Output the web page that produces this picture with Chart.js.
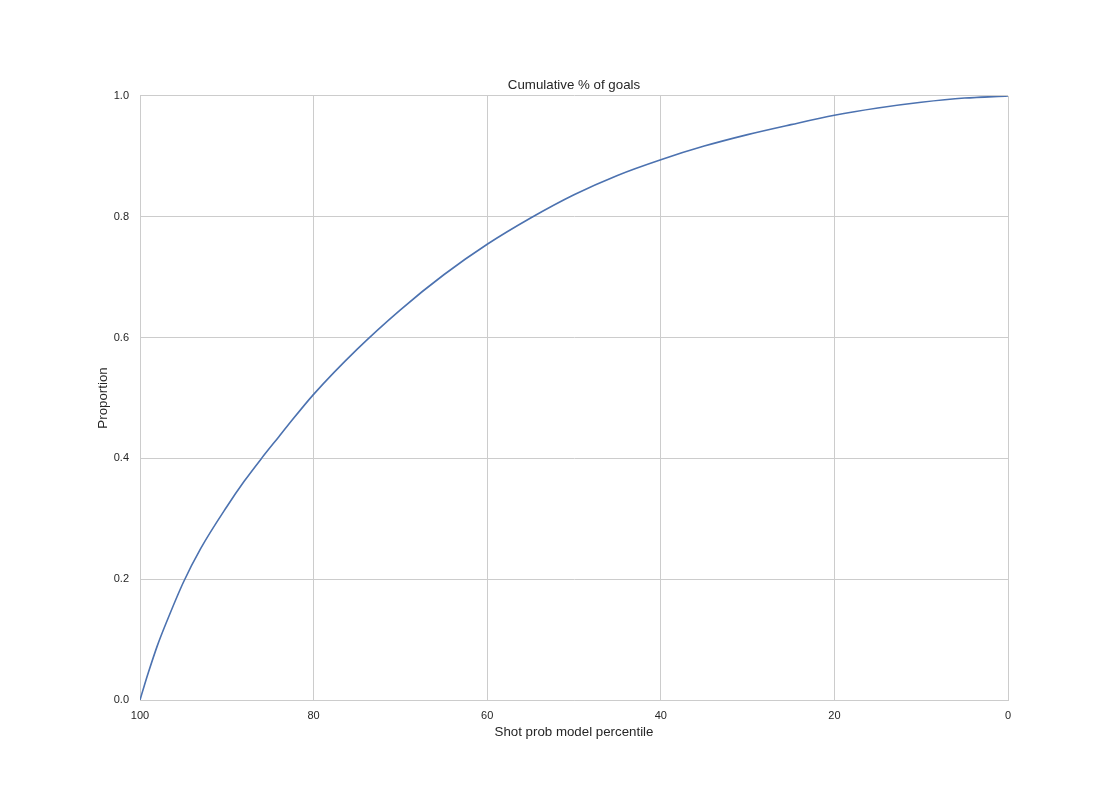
<!DOCTYPE html>
<html>
<head>
<meta charset="utf-8">
<script src="https://cdn.jsdelivr.net/npm/chart.js@4"></script>
<style>
  html, body { margin: 0; padding: 0; background: #ffffff; }
  canvas { display: block; }
</style>
</head>
<body>
<canvas id="goalsChart" width="1120" height="800"></canvas>
<script>
// Dados
const percentiles = [100, 99.5, 99, 98, 97, 95, 93, 90, 88, 86, 84, 83, 80, 75, 70, 65, 60, 55, 50, 45, 40, 35, 30, 25, 20, 15, 10, 5, 0];
const proportions = [0, 0.024, 0.047, 0.090, 0.127, 0.195, 0.251, 0.320, 0.362, 0.400, 0.436, 0.454, 0.506, 0.5805, 0.646, 0.704, 0.7545, 0.798, 0.8365, 0.8685, 0.8945, 0.917, 0.936, 0.9525, 0.968, 0.980, 0.9895, 0.9965, 1.0];
const xTicks = [100, 80, 60, 40, 20, 0];
const yTicks = [0, 0.2, 0.4, 0.6, 0.8, 1.0];

const textColor = '#262626';
const gridColor = '#cccccc';
const fontFamily = '"Liberation Sans", Arial, sans-serif';

const points = percentiles.map((p, i) => ({ x: p, y: proportions[i] }));

const ctx = document.getElementById('goalsChart').getContext('2d');
const goalsChart = new Chart(ctx, {
    type: 'line',
    data: {
        datasets: [{
            label: 'Cumulative % of goals',
            data: points,
            borderColor: '#4c72b0',
            borderWidth: 1.6,
            pointRadius: 0,
            fill: false,
            cubicInterpolationMode: 'monotone'
        }]
    },
    options: {
        responsive: false,
        animation: false,
        layout: { padding: { left: 0, top: 0, right: 112, bottom: 0 } },
        plugins: {
            legend: { display: false },
            tooltip: { enabled: false },
            title: {
                display: true,
                text: 'Cumulative % of goals',
                fullSize: false,
                color: textColor,
                font: { family: fontFamily, size: 13.3, weight: 'normal', lineHeight: 1.2 },
                padding: { top: 77, bottom: 3 }
            }
        },
        scales: {
            x: {
                type: 'linear',
                reverse: true,
                min: 0,
                max: 100,
                afterBuildTicks: (scale) => { scale.ticks = xTicks.map(v => ({ value: v })); },
                afterFit: (scale) => { scale.height = 100; },
                ticks: {
                    color: textColor,
                    font: { family: fontFamily, size: 11 },
                    padding: 9,
                    maxRotation: 0,
                    callback: (v) => String(v)
                },
                grid: { color: gridColor, lineWidth: 1, drawTicks: false },
                border: { color: gridColor, width: 1 },
                title: {
                    display: true,
                    text: 'Shot prob model percentile',
                    color: textColor,
                    font: { family: fontFamily, size: 13.3, lineHeight: 1.2 },
                    padding: { top: 0, bottom: 60 }
                }
            },
            y: {
                type: 'linear',
                min: 0,
                max: 1,
                afterBuildTicks: (scale) => { scale.ticks = yTicks.map(v => ({ value: v })); },
                afterFit: (scale) => { scale.width = 140; },
                ticks: {
                    color: textColor,
                    font: { family: fontFamily, size: 11 },
                    padding: 11,
                    callback: (v) => Number(v).toFixed(1)
                },
                grid: { color: gridColor, lineWidth: 1, drawTicks: false },
                border: { color: gridColor, width: 1 },
                title: {
                    display: true,
                    text: 'Proportion',
                    color: textColor,
                    font: { family: fontFamily, size: 13.3, lineHeight: 1.2 },
                    padding: { top: 95, bottom: 0 }
                }
            }
        }
    }
});
</script>
</body>
</html>
